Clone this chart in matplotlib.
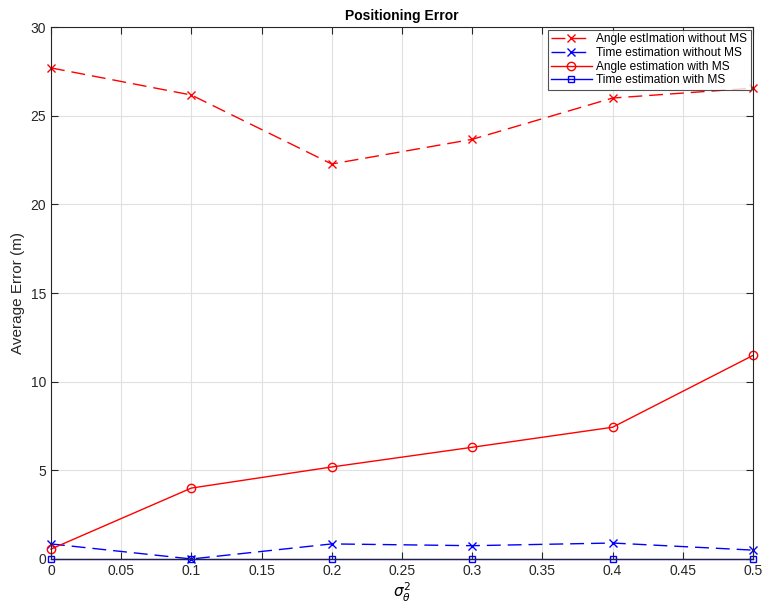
import numpy as np
import matplotlib
matplotlib.use("Agg")
import matplotlib.pyplot as plt

# noise variance values on the x axis
sigma2 = [0.0, 0.1, 0.2, 0.3, 0.4, 0.5]

# average positioning error (m) for each method
angle_no_ms = [27.7, 26.17, 22.28, 23.67, 26.0, 26.56]
time_no_ms = [0.85, 0.0, 0.85, 0.75, 0.9, 0.5]
angle_ms = [0.56, 4.0, 5.19, 6.3, 7.43, 11.48]
time_ms = [0.02, 0.02, 0.02, 0.02, 0.02, 0.02]

plt.rcParams['font.family'] = ['Liberation Sans', 'DejaVu Sans']

fig = plt.figure(figsize=(7.63, 6.03), dpi=100)
ax = fig.add_axes([0.0668, 0.073, 0.9200, 0.882])

dash = (0, (10, 5))
ax.plot(sigma2, angle_no_ms, color='red', linestyle=dash, linewidth=1.0,
        marker='x', markersize=6, label='Angle estImation without MS',
        clip_on=False)
ax.plot(sigma2, time_no_ms, color='blue', linestyle=dash, linewidth=1.0,
        marker='x', markersize=6, label='Time estimation without MS',
        clip_on=False)
ax.plot(sigma2, angle_ms, color='red', linewidth=1.0, marker='o',
        markersize=6, markerfacecolor='none', label='Angle estimation with MS',
        clip_on=False)
ax.plot(sigma2, time_ms, color='blue', linewidth=1.0, marker='s',
        markersize=5, markerfacecolor='none', label='Time estimation with MS',
        clip_on=False)

ax.set_xlim(0, 0.5)
ax.set_ylim(0, 30)
ax.set_xticks(np.arange(0, 0.51, 0.05))
ax.set_xticklabels(['0', '0.05', '0.1', '0.15', '0.2', '0.25', '0.3',
                    '0.35', '0.4', '0.45', '0.5'])
ax.set_yticks(np.arange(0, 31, 5))

ax.grid(True, color='#e0e0e0', linewidth=0.8)
ax.set_axisbelow(True)
ax.tick_params(direction='in', top=True, right=True, length=5,
               labelsize=10, colors='#262626', width=0.8)
for s in ax.spines.values():
    s.set_color('#262626')
    s.set_linewidth(0.8)

ax.set_title('Positioning Error', fontsize=10, fontweight='bold', pad=5)
ax.set_xlabel(r'$\sigma_\theta^2$', fontsize=11, labelpad=2)
ax.set_ylabel('Average Error (m)', fontsize=11, color='#262626')

leg = ax.legend(loc='upper right', fontsize=8.6, frameon=True, fancybox=False,
                edgecolor='#262626', borderpad=0.3, labelspacing=0.15,
                handlelength=3.4, handletextpad=0.35, borderaxespad=0.2)
leg.get_frame().set_linewidth(0.8)

fig.savefig('out.png', dpi=100)
